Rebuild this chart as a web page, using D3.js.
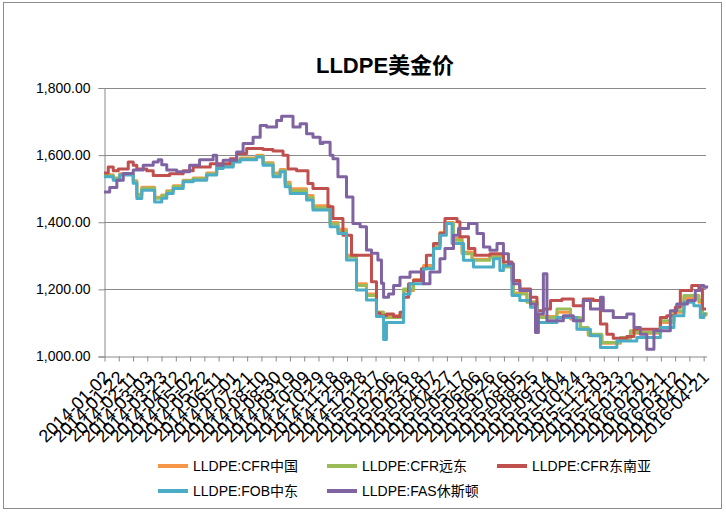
<!DOCTYPE html>
<html><head><meta charset="utf-8">
<script src="https://cdn.jsdelivr.net/npm/d3@7"></script>
<style>
html,body{margin:0;padding:0;background:#fff;}
text{font-family:"Liberation Sans",Arial,"Noto Sans CJK SC",sans-serif;}
</style></head>
<body>
<svg id="chart" width="726" height="512"></svg>
<script>
// ---------------- DATA ----------------
const title = "LLDPE美金价";
const startDate = "2014-01-02";
const xTickLabels = ["2014-01-02","2014-01-22","2014-02-11","2014-03-03","2014-03-23","2014-04-12","2014-05-02","2014-05-22","2014-06-11","2014-07-01","2014-07-21","2014-08-10","2014-08-30","2014-09-19","2014-10-09","2014-10-29","2014-11-18","2014-12-08","2014-12-28","2015-01-17","2015-02-06","2015-02-26","2015-03-18","2015-04-07","2015-04-27","2015-05-17","2015-06-06","2015-06-26","2015-07-16","2015-08-05","2015-08-25","2015-09-14","2015-10-04","2015-10-24","2015-11-13","2015-12-03","2015-12-23","2016-01-12","2016-02-01","2016-02-21","2016-03-12","2016-04-01","2016-04-21"];
const yTickValues = [1000, 1200, 1400, 1600, 1800];
const seriesNames = ["LLDPE:CFR中国","LLDPE:CFR远东","LLDPE:CFR东南亚","LLDPE:FOB中东","LLDPE:FAS休斯顿"];

// each entry: [days since 2014-01-02, price]; value holds until next entry
const cfrChina = [[0,1540],[13,1530],[22,1543],[41,1522],[46,1482],[53,1503],[71,1473],[81,1480],[88,1492],[97,1507],[111,1524],[125,1530],[144,1545],[158,1565],[167,1568],[181,1582],[191,1590],[214,1598],[223,1576],[237,1545],[247,1556],[254,1518],[261,1498],[284,1478],[293,1448],[317,1398],[328,1378],[340,1300],[354,1215],[368,1185],[382,1130],[392,1120],[420,1195],[434,1228],[448,1270],[462,1330],[471,1368],[478,1398],[490,1350],[502,1310],[516,1288],[541,1298],[560,1270],[574,1188],[593,1162],[607,1118],[635,1130],[654,1110],[668,1080],[679,1062],[698,1038],[724,1050],[738,1070],[747,1068],[780,1100],[799,1130],[813,1172],[834,1160],[839,1122],[844,1128]];
const cfrFarEast = [[0,1538],[13,1528],[22,1541],[41,1520],[46,1478],[53,1500],[71,1470],[81,1478],[88,1490],[97,1505],[111,1522],[125,1528],[144,1542],[158,1562],[167,1566],[181,1580],[191,1588],[214,1595],[223,1573],[237,1540],[247,1553],[254,1512],[261,1492],[284,1472],[293,1442],[317,1393],[328,1372],[340,1295],[354,1210],[368,1180],[382,1130],[392,1115],[420,1200],[434,1225],[448,1262],[462,1325],[471,1365],[478,1395],[490,1345],[502,1305],[516,1285],[541,1295],[560,1265],[574,1185],[593,1160],[607,1115],[635,1140],[654,1115],[668,1085],[679,1065],[698,1040],[724,1055],[738,1075],[747,1070],[780,1105],[799,1135],[813,1180],[834,1165],[839,1125],[844,1130]];
const cfrSEAsia = [[0,1545],[6,1563],[13,1552],[20,1557],[34,1578],[41,1568],[46,1557],[60,1552],[69,1538],[92,1543],[111,1552],[125,1563],[149,1573],[177,1588],[186,1603],[200,1618],[223,1615],[237,1611],[251,1598],[258,1557],[270,1552],[286,1514],[293,1499],[314,1445],[321,1410],[335,1360],[347,1300],[375,1221],[382,1128],[387,1120],[396,1125],[406,1118],[415,1130],[420,1175],[427,1215],[434,1225],[445,1260],[452,1300],[462,1335],[471,1365],[478,1410],[495,1400],[499,1355],[511,1320],[520,1300],[541,1305],[560,1280],[572,1225],[583,1200],[598,1175],[607,1135],[616,1140],[626,1165],[642,1170],[658,1150],[672,1170],[686,1165],[696,1095],[705,1065],[714,1053],[733,1058],[743,1080],[780,1115],[789,1120],[801,1145],[808,1195],[824,1210],[834,1200],[839,1140],[844,1140]];
const fobMidEast = [[0,1534],[13,1524],[22,1539],[41,1515],[46,1469],[53,1494],[71,1459],[81,1470],[88,1484],[97,1499],[111,1519],[125,1524],[144,1539],[158,1559],[167,1563],[181,1578],[191,1585],[214,1593],[223,1568],[237,1534],[247,1549],[254,1504],[261,1484],[284,1465],[293,1435],[317,1385],[328,1365],[340,1286],[354,1197],[368,1167],[382,1118],[392,1049],[396,1100],[420,1185],[429,1215],[448,1260],[462,1320],[471,1360],[480,1395],[488,1335],[504,1285],[518,1265],[546,1290],[555,1255],[560,1270],[572,1180],[583,1165],[598,1145],[607,1100],[635,1115],[663,1080],[682,1060],[696,1025],[719,1045],[747,1055],[780,1085],[799,1120],[813,1160],[827,1150],[836,1115],[841,1125],[844,1125]];
const fasHouston = [[0,1489],[8,1502],[18,1524],[27,1544],[41,1554],[55,1568],[69,1578],[76,1585],[81,1570],[88,1554],[102,1549],[120,1568],[134,1585],[153,1598],[158,1568],[167,1583],[186,1608],[195,1633],[209,1652],[219,1687],[228,1682],[242,1702],[249,1714],[265,1682],[275,1692],[284,1662],[293,1652],[303,1633],[307,1637],[317,1598],[321,1588],[328,1534],[340,1474],[349,1395],[359,1385],[368,1316],[375,1306],[384,1286],[389,1217],[392,1175],[399,1185],[406,1210],[415,1235],[429,1250],[448,1215],[457,1250],[471,1290],[478,1320],[490,1360],[497,1380],[511,1395],[523,1365],[532,1325],[541,1315],[551,1335],[560,1305],[567,1275],[574,1215],[583,1195],[598,1155],[605,1070],[609,1125],[616,1245],[621,1105],[644,1120],[658,1105],[672,1165],[682,1140],[696,1175],[700,1135],[714,1115],[733,1125],[743,1085],[752,1065],[761,1020],[771,1075],[794,1135],[803,1155],[818,1165],[829,1195],[836,1210],[841,1205],[845,1210]];
const seriesData = [cfrChina, cfrFarEast, cfrSEAsia, fobMidEast, fasHouston];
const seriesColors = ["#F79646","#9BBB59","#C0504D","#4BACC6","#8064A2"];

// ---------------- DRAW ----------------
const svg = d3.select("#chart");
const parse = d3.timeParse("%Y-%m-%d");
const t0 = parse(startDate);
const plot = {left:104, right:706, top:87.5, bottom:356};

svg.append("rect").attr("x",3.5).attr("y",2.5).attr("width",718).attr("height",506)
  .attr("fill","#fff").attr("stroke","#8c8c8c").attr("stroke-width",1);

const x = d3.scaleTime().domain([t0, d3.timeDay.offset(t0, 844)]).range([plot.left, plot.right]);
const y = d3.scaleLinear().domain([1000, 1800]).range([plot.bottom, plot.top]);

// gridlines
svg.append("g").selectAll("line").data(yTickValues.filter(v=>v>1000)).join("line")
  .attr("x1", plot.left).attr("x2", plot.right)
  .attr("y1", d=>Math.round(y(d))+0.5).attr("y2", d=>Math.round(y(d))+0.5)
  .attr("stroke","#8a8a8a").attr("stroke-width",1);

// y axis
const yAxis = d3.axisLeft(y).tickValues(yTickValues).tickFormat(d3.format(",.2f")).tickSize(6).tickPadding(8);
const gy = svg.append("g").attr("transform",`translate(${plot.left+0.5},0.5)`).call(yAxis);
gy.select(".domain").attr("stroke","#8a8a8a");
gy.selectAll(".tick line").attr("stroke","#8a8a8a");
gy.selectAll(".tick text").attr("font-size","14px").attr("fill","#000")
  .attr("font-family","'Liberation Sans',Arial,sans-serif");

// x axis
const tickDates = xTickLabels.map(parse);
const xAxis = d3.axisBottom(x).tickValues(tickDates).tickFormat(d3.timeFormat("%Y-%m-%d")).tickSize(5).tickSizeOuter(0);
const gx = svg.append("g").attr("transform",`translate(0.5,${Math.round(plot.bottom)+0.5})`).call(xAxis);
gx.select(".domain").attr("stroke","#8a8a8a");
gx.selectAll(".tick line").attr("stroke","#8a8a8a");
gx.selectAll(".tick text")
  .attr("font-size","18px").attr("fill","#000")
  .attr("text-anchor","end")
  .attr("dy",null).attr("y",0)
  .attr("transform","translate(6,22) rotate(-45)");

// lines
const line = d3.line().curve(d3.curveStepAfter)
  .x(d=>x(d3.timeDay.offset(t0, d[0]))).y(d=>y(d[1]));
svg.append("g").selectAll("path").data(seriesData).join("path")
  .attr("d", line).attr("fill","none")
  .attr("stroke",(d,i)=>seriesColors[i]).attr("stroke-width",3)
  .attr("stroke-linejoin","round");

// title
svg.append("text").attr("x",385).attr("y",73).attr("text-anchor","middle")
  .attr("font-size","22px").attr("font-weight","bold").text(title);

// legend
const legendPos = [[158,466],[327,466],[497,466],[158,491],[327,491]];
const lg = svg.append("g").selectAll("g").data(seriesNames).join("g")
  .attr("transform",(d,i)=>`translate(${legendPos[i][0]},${legendPos[i][1]})`);
lg.append("line").attr("x1",0).attr("x2",30).attr("y1",0).attr("y2",0)
  .attr("stroke",(d,i)=>seriesColors[i]).attr("stroke-width",4);
lg.append("text").attr("x",35).attr("y",5).attr("font-size","14px").text(d=>d);
</script>
</body></html>
